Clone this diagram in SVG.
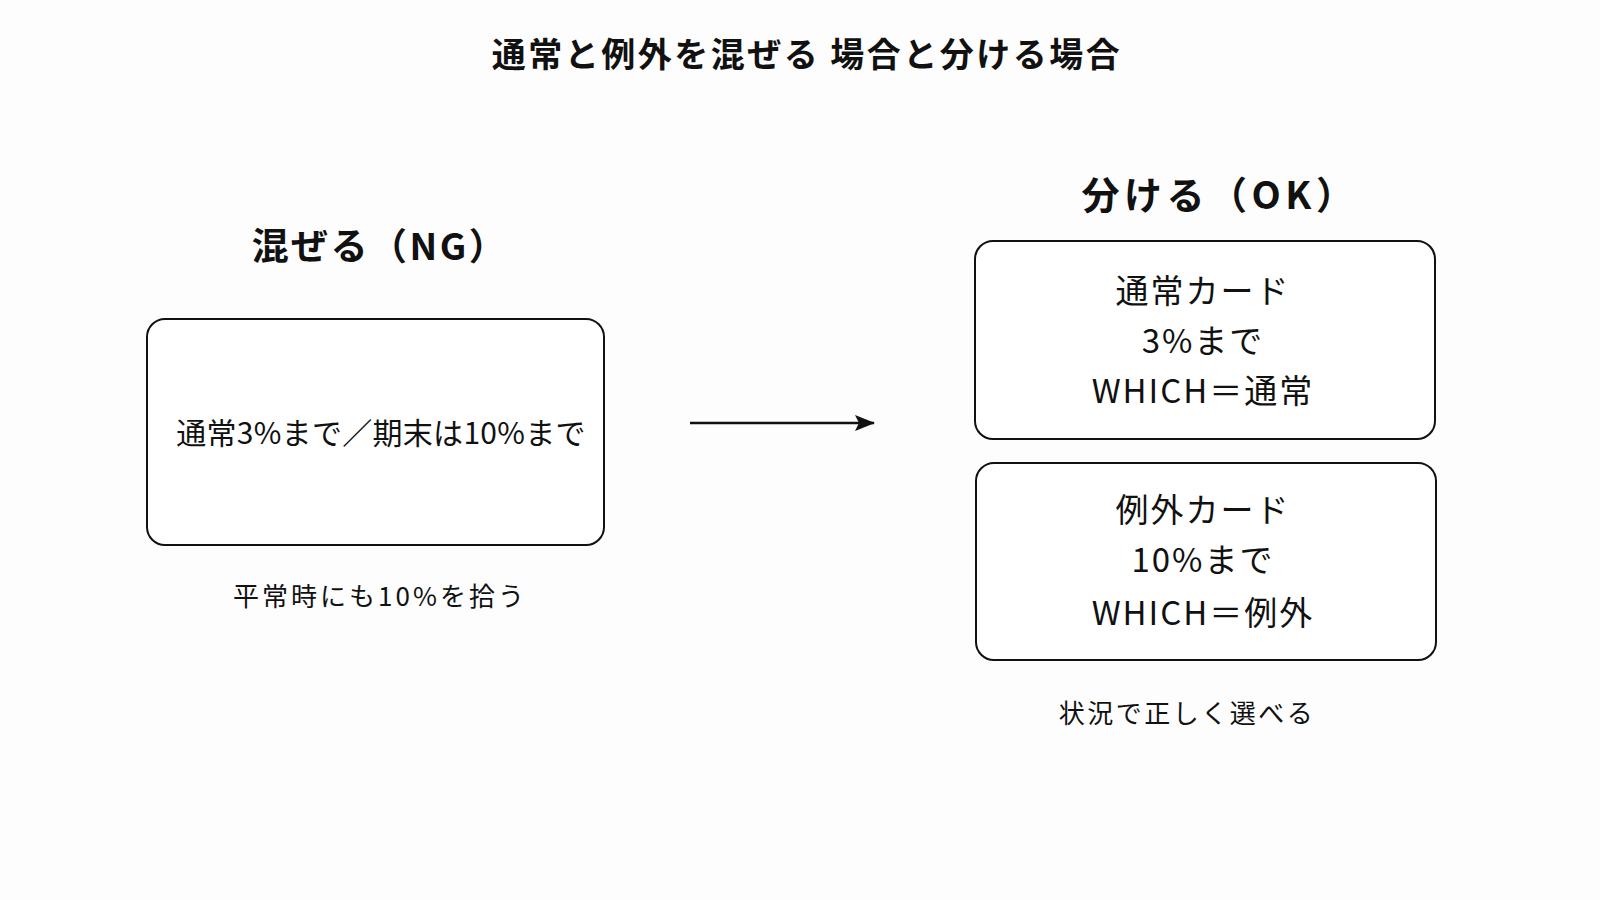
<svg xmlns="http://www.w3.org/2000/svg" width="1600" height="900" viewBox="0 0 1600 900">
<style>
text{font-family:"Noto Sans CJK JP","Noto Sans",sans-serif;fill:#111;text-anchor:middle}
.title{font-size:34px;font-weight:700;letter-spacing:2.5px}
.head{font-size:37px;font-weight:700;letter-spacing:2.5px}
.headr{font-size:38px;font-weight:700;letter-spacing:4.5px}
.body{font-size:30px;letter-spacing:0.3px}
.rbody{font-size:33px;letter-spacing:2px}
.cap{font-size:26px;letter-spacing:3px}
.capr{font-size:26px;letter-spacing:2.5px}
.box{fill:#fff;stroke:#111;stroke-width:2}
.conn{stroke:#111;stroke-width:2.5;fill:none}
</style>
<defs>
<marker id="ah" viewBox="0 0 20 16" refX="19" refY="8" markerWidth="20" markerHeight="16" orient="auto" markerUnits="userSpaceOnUse">
<path d="M0,0 L20,8 L0,16 L4,8 Z" fill="#111"/>
</marker>
</defs>
<rect width="1600" height="900" fill="#fdfdfd"/>
<text class="title" x="807" y="67">通常と例外を混ぜる 場合と分ける場合</text>
<g id="ng">
<text class="head" x="380" y="260">混ぜる（NG）</text>
<rect class="box" x="147" y="319" width="457" height="226" rx="18"/>
<text class="body" x="381" y="444">通常3%まで／期末は10%まで</text>
<text class="cap" x="380" y="606">平常時にも10%を拾う</text>
</g>
<g id="connectors">
<line class="conn" x1="690" y1="423" x2="874" y2="423" marker-end="url(#ah)"/>
</g>
<g id="ok">
<text class="headr" x="1220" y="209">分ける（OK）</text>
</g>
<g id="normal">
<rect class="box" x="975" y="241" width="460" height="198" rx="18"/>
<text class="rbody" x="1203" y="303">通常カード</text>
<text class="rbody" x="1203" y="353">3%まで</text>
<text class="rbody" x="1203" y="403">WHICH＝通常</text>
</g>
<g id="exception">
<rect class="box" x="976" y="463" width="460" height="197" rx="18"/>
<text class="rbody" x="1203" y="522">例外カード</text>
<text class="rbody" x="1203" y="572">10%まで</text>
<text class="rbody" x="1203" y="625">WHICH＝例外</text>
</g>
<text class="capr" x="1187" y="723">状況で正しく選べる</text>
</svg>
